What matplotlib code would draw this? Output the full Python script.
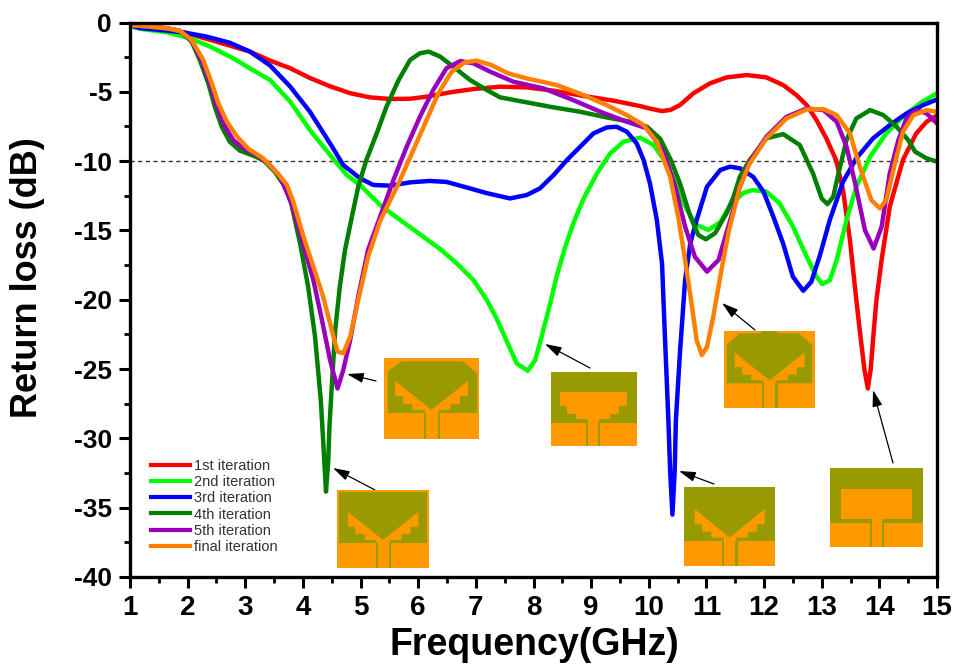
import matplotlib
matplotlib.use('Agg')
import matplotlib.pyplot as plt
from matplotlib.patches import Polygon, Rectangle

plt.rcParams['font.family'] = ['Liberation Sans', 'DejaVu Sans']
plt.rcParams['axes.unicode_minus'] = False

# values: frequency (GHz), return loss (dB)
f1 = [1, 1.17, 1.93, 2.5, 3.08, 3.43, 3.78, 4.12, 4.47, 4.82, 5.16, 5.51, 5.86, 6.15, 6.55, 6.96, 7.42, 7.88, 8.35, 8.87, 9.39, 9.85, 10.03, 10.23, 10.38, 10.54, 10.77, 11.06, 11.35, 11.7, 12.04, 12.33, 12.56, 12.74, 12.91, 13.08, 13.25, 13.37, 13.49, 13.6, 13.66, 13.74, 13.8, 13.85, 13.9, 13.95, 14.04, 14.18, 14.41, 14.64, 14.82, 15]
s1 = [-0.25, -0.42, -0.71, -1.38, -2.1, -2.75, -3.3, -4.0, -4.6, -5.1, -5.4, -5.52, -5.5, -5.35, -5.04, -4.8, -4.63, -4.68, -4.92, -5.3, -5.64, -6.03, -6.22, -6.39, -6.3, -5.96, -5.12, -4.39, -3.96, -3.79, -3.96, -4.51, -5.23, -5.96, -7.04, -8.36, -9.93, -12.1, -15.7, -20, -22.2, -25, -26.4, -25, -22.4, -20, -17.1, -13.3, -9.9, -8, -7.16, -6.7]

f2 = [1, 1.23, 1.64, 2.04, 2.39, 2.79, 3.08, 3.43, 3.78, 4.12, 4.47, 4.76, 4.99, 5.34, 5.69, 6.38, 6.67, 6.96, 7.19, 7.36, 7.54, 7.71, 7.9, 8.03, 8.14, 8.29, 8.4, 8.55, 8.69, 8.87, 9.1, 9.33, 9.56, 9.85, 10.08, 10.31, 10.49, 10.66, 10.83, 11.03, 11.24, 11.41, 11.64, 11.8, 12.04, 12.27, 12.5, 12.74, 12.91, 13.01, 13.14, 13.26, 13.43, 13.6, 13.84, 14.12, 14.41, 14.7, 15]
s2 = [-0.25, -0.49, -0.71, -1.14, -1.74, -2.58, -3.31, -4.15, -5.71, -7.75, -9.56, -11, -11.72, -13.17, -14.25, -16.34, -17.38, -18.58, -20.02, -21.35, -23.03, -24.6, -25.12, -24.35, -22.67, -20.27, -18.34, -16.18, -14.5, -12.69, -10.9, -9.44, -8.6, -8.31, -8.83, -10.16, -11.84, -13.5, -14.6, -14.97, -14.4, -13.2, -12.3, -12.09, -12.2, -13.05, -14.7, -16.9, -18.34, -18.87, -18.6, -17.14, -14.25, -11.85, -9.68, -8, -6.8, -5.84, -5.1]

f3 = [1, 1.17, 1.93, 2.33, 2.73, 3.08, 3.43, 3.78, 4.12, 4.47, 4.7, 4.99, 5.22, 5.51, 5.86, 6.2, 6.49, 6.84, 7.18, 7.59, 7.88, 8.11, 8.35, 8.58, 8.81, 9.04, 9.27, 9.44, 9.62, 9.79, 9.91, 10.02, 10.14, 10.23, 10.28, 10.34, 10.37, 10.41, 10.45, 10.47, 10.54, 10.63, 10.72, 10.83, 11.01, 11.24, 11.41, 11.58, 11.81, 11.99, 12.16, 12.33, 12.5, 12.68, 12.82, 12.97, 13.14, 13.37, 13.6, 13.89, 14.18, 14.47, 14.76, 15]
s3 = [-0.2, -0.4, -0.71, -1.02, -1.46, -2.1, -3.1, -4.63, -6.43, -8.72, -10.28, -11.24, -11.72, -11.77, -11.53, -11.43, -11.5, -11.9, -12.3, -12.69, -12.45, -11.97, -11, -9.92, -8.96, -8, -7.57, -7.52, -7.88, -8.72, -9.92, -11.6, -14.25, -17.4, -22.66, -28.67, -32.3, -35.5, -32.3, -28.67, -23.87, -18.57, -15.93, -14.25, -11.84, -10.64, -10.4, -10.52, -11.13, -12.2, -14, -15.94, -18.34, -19.35, -18.7, -16.78, -14.25, -11.49, -9.8, -8.36, -7.4, -6.56, -5.96, -5.55]

f4 = [1, 1.35, 1.64, 1.87, 2.07, 2.21, 2.36, 2.47, 2.59, 2.73, 2.91, 3.11, 3.31, 3.51, 3.69, 3.8, 3.95, 4.09, 4.21, 4.31, 4.35, 4.4, 4.44, 4.46, 4.5, 4.56, 4.64, 4.73, 4.85, 4.96, 5.1, 5.28, 5.45, 5.66, 5.86, 6.03, 6.18, 6.38, 6.61, 6.9, 7.19, 7.42, 7.83, 8.29, 8.81, 9.27, 9.68, 9.97, 10.2, 10.38, 10.54, 10.72, 10.86, 10.99, 11.15, 11.35, 11.47, 11.58, 11.75, 12.04, 12.33, 12.62, 12.85, 13, 13.1, 13.2, 13.29, 13.43, 13.6, 13.84, 14.07, 14.3, 14.5, 14.62, 14.82, 15]
s4 = [-0.18, -0.3, -0.42, -0.61, -1.38, -2.7, -4.4, -6.07, -7.5, -8.6, -9.25, -9.56, -9.92, -10.76, -11.85, -13.1, -15.93, -19.05, -22.66, -27.25, -30.1, -33.84, -31.56, -29.15, -26.27, -22.18, -19.05, -16.4, -14, -11.84, -9.92, -8, -6.07, -4.15, -2.7, -2.22, -2.1, -2.46, -3.19, -4.15, -4.87, -5.4, -5.72, -6.08, -6.44, -6.85, -7.16, -7.52, -8.4, -9.9, -11.6, -14, -15.33, -15.64, -15.2, -13.76, -12.57, -11.12, -9.93, -8.36, -8.05, -8.84, -10.9, -12.7, -13.1, -12.57, -10.9, -8.48, -6.92, -6.32, -6.68, -7.52, -8.48, -9.32, -9.8, -10.04]

f5 = [1, 1.35, 1.64, 1.87, 2.07, 2.24, 2.39, 2.5, 2.62, 2.79, 2.97, 3.2, 3.4, 3.6, 3.8, 4.0, 4.18, 4.33, 4.47, 4.6, 4.7, 4.82, 4.96, 5.13, 5.34, 5.57, 5.8, 6.03, 6.26, 6.49, 6.73, 6.96, 7.25, 7.65, 8.17, 8.69, 9.16, 9.62, 9.97, 10.25, 10.46, 10.63, 10.8, 11.01, 11.21, 11.38, 11.58, 11.75, 12.04, 12.39, 12.74, 13.03, 13.26, 13.43, 13.58, 13.75, 13.9, 14.04, 14.18, 14.33, 14.47, 14.64, 14.82, 15]
s5 = [-0.18, -0.3, -0.42, -0.61, -1.3, -2.7, -4.4, -5.95, -7.28, -8.48, -9.08, -9.56, -10.16, -11.1, -13, -15.93, -18.57, -21.46, -24.34, -26.4, -25.07, -22.9, -19.77, -16.4, -14, -11.36, -8.96, -6.8, -4.87, -3.3, -2.78, -2.95, -3.55, -4.27, -4.75, -5.6, -6.44, -7.16, -7.64, -9.3, -11.84, -14.73, -16.9, -17.97, -17.13, -14.73, -11.84, -10.05, -8.24, -6.8, -6.2, -6.32, -7.16, -8.96, -11.6, -14.98, -16.3, -14.73, -10.9, -8.48, -6.92, -6.32, -6.56, -7.28]

f6 = [1, 1.35, 1.64, 1.87, 2.07, 2.27, 2.42, 2.53, 2.68, 2.85, 3.05, 3.31, 3.54, 3.72, 3.83, 4.01, 4.18, 4.35, 4.5, 4.6, 4.7, 4.82, 4.96, 5.13, 5.34, 5.66, 5.89, 6.12, 6.35, 6.58, 6.81, 7.01, 7.27, 7.56, 7.88, 8.4, 8.87, 9.27, 9.62, 9.91, 10.14, 10.37, 10.51, 10.63, 10.75, 10.83, 10.92, 11.01, 11.12, 11.24, 11.38, 11.58, 11.75, 12.04, 12.39, 12.74, 13.03, 13.26, 13.49, 13.66, 13.86, 14.01, 14.12, 14.27, 14.41, 14.59, 14.82, 15]
s6 = [-0.18, -0.3, -0.42, -0.61, -1.26, -2.7, -4.4, -5.8, -7.15, -8.2, -9.1, -9.8, -10.8, -11.7, -12.9, -15.45, -17.6, -19.77, -22.18, -23.74, -23.86, -22.66, -20, -16.9, -14.3, -11.6, -9.44, -7.27, -5.1, -3.55, -2.87, -2.75, -3.07, -3.67, -4.03, -4.51, -5.23, -5.96, -6.68, -7.4, -8.6, -11.12, -14, -17.13, -20.5, -22.9, -23.99, -23.4, -21.2, -18.33, -15.2, -11.84, -10.17, -8.36, -6.92, -6.27, -6.25, -6.68, -8, -10.4, -12.8, -13.41, -12.8, -10.17, -7.88, -6.68, -6.32, -6.44]

series_f = [f1, f2, f3, f4, f5, f6]
series_s = [s1, s2, s3, s4, s5, s6]
names = ['1st iteration', '2nd iteration', '3rd iteration', '4th iteration', '5th iteration', 'final iteration']
colors = ['#ff0000', '#00ff00', '#0000ff', '#007f00', '#9900bb', '#ff8000']

W, H = 958, 665
OLIVE = '#999900'
ORANGE = '#ff9900'

fig = plt.figure(figsize=(W / 100, H / 100), dpi=100)
ax = fig.add_axes([130 / W, 1 - 577 / H, 807 / W, 554.5 / H])

ax.axhline(-10, color='#333333', lw=1, ls=(0, (3, 2.5)), zorder=1)
for f, s, c, n in zip(series_f, series_s, colors, names):
    ax.plot(f, s, color=c, lw=3.2, label=n, zorder=2, solid_joinstyle='round')

ax.set_xlim(1, 15)
ax.set_ylim(-40, 0)
ax.set_xticks(range(1, 16))
ax.set_xticks([i + 0.5 for i in range(1, 15)], minor=True)
ax.set_yticks(range(-40, 1, 5))
ax.set_yticks([-37.5 + 5 * i for i in range(8)], minor=True)
ax.tick_params(which='major', length=8, width=2.2)
ax.tick_params(which='minor', length=4, width=2)
ax.tick_params(axis='x', which='major', labelsize=20, pad=5)
ax.tick_params(axis='y', which='major', labelsize=19, pad=5)
for lab in ax.get_xticklabels() + ax.get_yticklabels():
    lab.set_fontweight('bold')
for side in ax.spines:
    ax.spines[side].set_linewidth(2.4)

fig.text(534 / W, 1 - 645 / H, 'Frequency(GHz)', fontsize=27, fontweight='bold', ha='center', va='center')
fig.text(28 / W, 1 - 278 / H, 'Return loss (dB)', fontsize=26, fontweight='bold', rotation=90, ha='center', va='center')

ax.legend(loc='upper left', bbox_to_anchor=(151 / W, 1 - 459 / H), bbox_transform=fig.transFigure,
          frameon=False, fontsize=10.5, labelcolor='#333333', handlelength=2.7, handletextpad=0.25,
          labelspacing=0.15, borderpad=0, borderaxespad=0)
for line in ax.get_legend().get_lines():
    line.set_linewidth(3)


def arrow(x0, y0, x1, y1):
    ax.annotate('', xy=(x1, H - y1), xytext=(x0, H - y0), xycoords='figure pixels', textcoords='figure pixels',
                arrowprops=dict(arrowstyle='-|>,head_length=1.0,head_width=0.3', color='black', lw=0.9, shrinkA=0, shrinkB=0),
                zorder=5)


arrow(375, 490, 333, 468)
arrow(376, 381, 347, 374)
arrow(590, 368, 545, 344)
arrow(755, 330, 722, 303)
arrow(714, 484, 679, 471)
arrow(893, 463, 873, 390)


def thumb(x0, x1, y0, y1):
    a = fig.add_axes([x0 / W, 1 - y1 / H, (x1 - x0) / W, (y1 - y0) / H], zorder=4)
    a.set_xlim(0, 1)
    a.set_ylim(1, 0)
    a.axis('off')
    a.add_patch(Rectangle((0, 0), 1, 1, color=ORANGE, lw=0))
    return a


def slots(a, x0, x1, w=0.025, gy=0.68):
    a.add_patch(Rectangle((x0, gy), w, 1 - gy, color=OLIVE, lw=0))
    a.add_patch(Rectangle((x1, gy), w, 1 - gy, color=OLIVE, lw=0))


# stepped wings joined at the apex, feed stub below
WING = [(0.886, 0.28), (0.886, 0.47), (0.80, 0.47), (0.80, 0.566), (0.70, 0.566), (0.70, 0.64), (0.575, 0.64), (0.575, 0.72),
        (0.43, 0.72), (0.43, 0.64), (0.30, 0.64), (0.30, 0.566), (0.20, 0.566), (0.20, 0.47), (0.117, 0.47), (0.117, 0.28), (0.50, 0.64)]

# square top
a = thumb(337, 429, 490, 568)
a.add_patch(Polygon([(0.02, 0.03), (0.98, 0.03), (0.98, 0.68), (0.02, 0.68)], color=OLIVE, lw=0))
a.add_patch(Polygon(WING, color=ORANGE, lw=0))
slots(a, 0.42, 0.565)

# chamfered top
a = thumb(384, 479, 358, 439)
a.add_patch(Polygon([(0.04, 0.17), (0.18, 0.04), (0.83, 0.04), (0.98, 0.19), (0.98, 0.68), (0.04, 0.68)], color=OLIVE, lw=0))
a.add_patch(Polygon(WING, color=ORANGE, lw=0))
slots(a, 0.42, 0.565)

# stepped patch
a = thumb(551, 637, 372, 446)
a.add_patch(Rectangle((0, 0), 1, 0.69, color=OLIVE, lw=0))
a.add_patch(Polygon([(0.10, 0.27), (0.88, 0.27), (0.88, 0.465), (0.79, 0.465), (0.79, 0.57), (0.69, 0.57), (0.69, 0.64),
                     (0.56, 0.64), (0.56, 0.72), (0.43, 0.72), (0.43, 0.64), (0.29, 0.64), (0.29, 0.57), (0.19, 0.57),
                     (0.19, 0.465), (0.10, 0.465)], color=ORANGE, lw=0))
slots(a, 0.41, 0.55)

# chamfered top with neck
a = thumb(724, 815, 331, 408)
a.add_patch(Polygon([(0.03, 0.18), (0.17, 0.03), (0.41, 0.03), (0.41, 0), (0.58, 0), (0.58, 0.03), (0.82, 0.03), (0.97, 0.18),
                     (0.97, 0.68), (0.03, 0.68)], color=OLIVE, lw=0))
a.add_patch(Polygon(WING, color=ORANGE, lw=0))
slots(a, 0.42, 0.565)

# full top
a = thumb(684, 775, 487, 566)
a.add_patch(Rectangle((0, 0), 1, 0.685, color=OLIVE, lw=0))
a.add_patch(Polygon(WING, color=ORANGE, lw=0))
slots(a, 0.42, 0.565)

# rectangular patch
a = thumb(830, 923, 468, 547)
a.add_patch(Rectangle((0, 0), 1, 0.69, color=OLIVE, lw=0))
a.add_patch(Rectangle((0.12, 0.27), 0.76, 0.38, color=ORANGE, lw=0))
a.add_patch(Rectangle((0.455, 0.6), 0.10, 0.12, color=ORANGE, lw=0))
slots(a, 0.43, 0.555)

fig.savefig('out.png', dpi=100)
